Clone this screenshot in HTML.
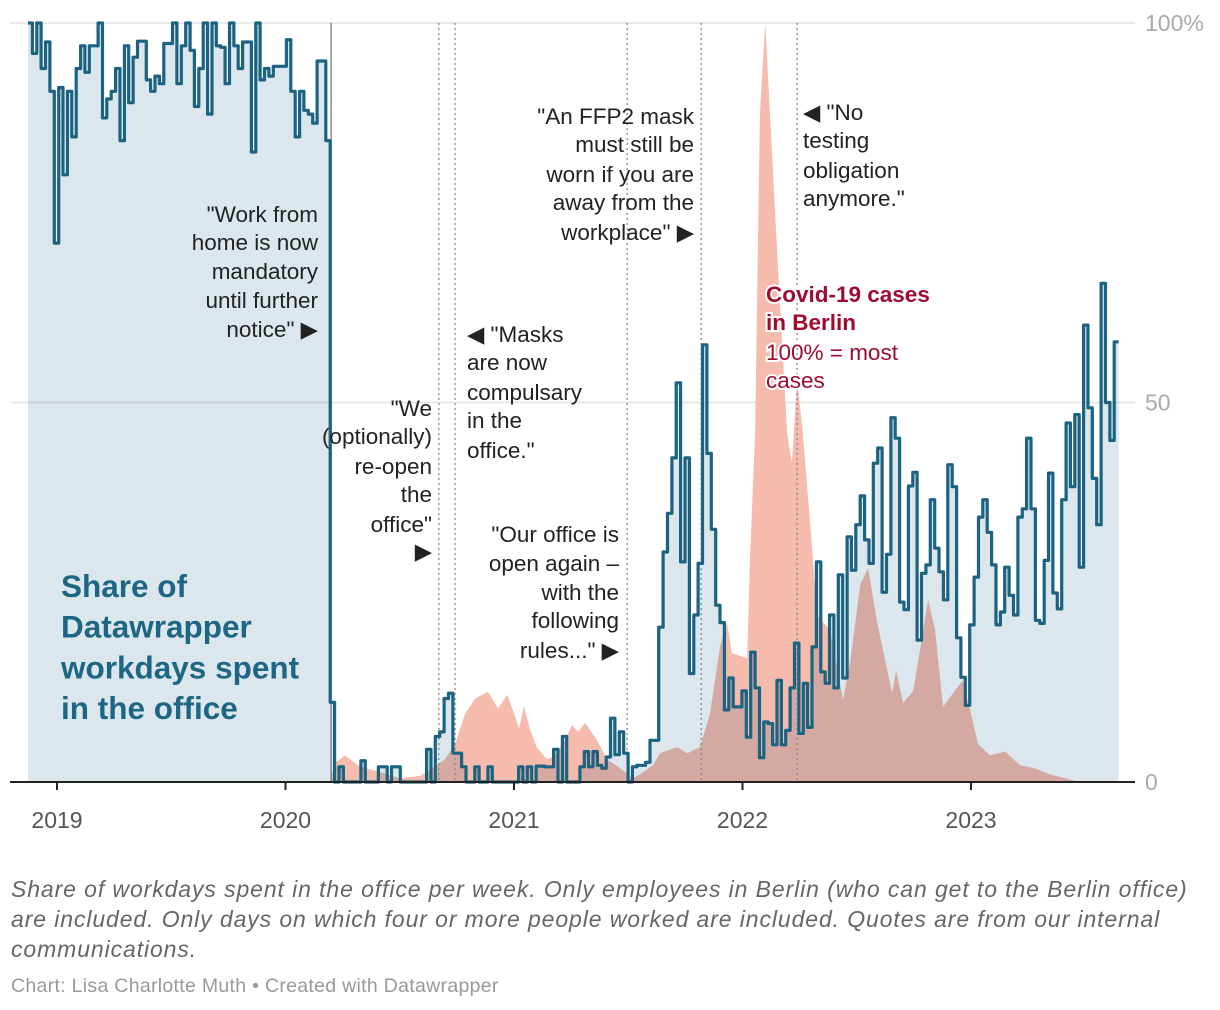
<!DOCTYPE html>
<html><head><meta charset="utf-8"><style>
body{margin:0;background:#fff;width:1220px;height:1010px;overflow:hidden;font-family:"Liberation Sans",sans-serif}
svg{display:block}
.ann{font-size:22.5px;fill:#222}
.foot{position:absolute;left:11px;top:874px;width:1200px;font-style:italic;color:#666;font-size:23px;line-height:30px;letter-spacing:0.9px}
.credit{position:absolute;left:11px;top:975px;color:#999;font-size:19.5px;letter-spacing:0.3px}
</style></head><body>
<svg id="chart" width="1220" height="870" viewBox="0 0 1220 870"></svg>
<div class="foot">Share of workdays spent in the office per week. Only employees in Berlin (who can get to the Berlin office) are included. Only days on which four or more people worked are included. Quotes are from our internal communications.</div>
<div class="credit">Chart: Lisa Charlotte Muth • Created with Datawrapper</div>
<script>
const officeShare=[100,96,100,94,97.5,91,71,91.5,80,91,85,94,97,93.5,97,97,100,87.5,90,91,94,84.5,97,89.5,95.5,97.6,97.6,92.5,91,93,92,97.3,97.3,100,92,97,100,96.4,89,94,100,88,100,97,96.8,92,100,97,94,97.5,97.5,83,100,92.5,94,93,94.3,94.3,94.3,97.8,91,85,91,88.5,88,86.8,95,95,84.5,
10.5,0,2,0,0,0,0,2.8,0,0,0,2,2,0,2,2,0,0,0,0,0,0,4.3,0,6,6.6,11,11.7,3.8,3.8,2,0,0,2,0,0,2,0,0,0,0,0,0,2,0,2,0,2.1,2.1,2,2,4.3,0,6,0,0,0,2,4,2,4,2.2,1.8,3.3,8.4,3.6,6.6,3.8,0,2,2.2,2.2,2.6,5.5,5.5,
20.4,30.3,35.4,42.7,52.6,29,42.7,14.3,22,28.8,57.6,43.3,33.3,23.3,21,9.5,13.7,9.9,9.9,12,5.9,17.1,12.4,3.2,7.9,7.7,4.9,13.4,4.9,6.8,12.4,18.3,6.4,13,7.2,17.8,29,14.5,13,22,12.4,27.3,13.7,32.3,27.9,33.9,37.7,31.9,28.8,42,
44,25,30,48,45.3,23.7,22.7,39,40.8,18.7,27.5,28.6,37.2,30.8,27.7,24,41.8,38.9,19,13.8,10.1,20.7,27,34.9,37.2,32.9,28.6,20.7,22.4,28.3,24.6,22,34.9,36,45.3,36,21.3,20.9,29.2,40.7,24.9,22.8,37.2,47.3,38.9,48.4,28.3,60.2,49.3,40,33.9,65.7,50,45,58];
const covidWeeks=[69,70.1,72.4,75.8,79.2,84.9,89.5,92.9,95.2,97.5,99.8,102.1,105,107.3,109.4,111,112.1,113.2,114.6,116.2,118.5,119.9,122.1,124.2,125.6,127.2,129.9,132.2,135.2,138.1,139.7,142.7,144.3,148.2,150.5,153.4,155.7,158,159.6,160.7,164.2,164.8,166,167.1,168.3,169.4,171.2,173.3,174.4,175.6,176.9,179,180.1,183.1,186.1,187.7,190,191.8,193.8,195.7,197.3,198.2,199.8,202.1,204.1,205.5,207.1,208.9,212.1,213.5,215.1,216.9,219.6,223.1,226.5,229.9,233.3,240.2];
const covidValues=[0,2.5,3.5,2,1.5,0.5,0.8,2,3,5,9,11,11.9,9.7,11.5,9,7,10,7,4.5,3,3.3,5,7.5,6.6,7.8,5.5,3,1.8,0.5,1,2.2,3.8,4.6,3.8,4.6,9,17.8,21,17,16.3,28.8,46,88,100,88,68,46,42,53,46,31,22,20,10.8,15.7,26,28.2,21.3,16,11.7,14.7,10.4,12,19,24,20,9.9,12.4,13.4,9.5,5,3.5,4,2.2,1.8,1,0];
const yTicks=[0,50,100];
const yTickLabels=["0","50","100%"];
const years=[2019,2020,2021,2022,2023];
const eventWeeks=[69.2,93.8,97.5,136.8,153.7,175.6];

const NS="http://www.w3.org/2000/svg";
const svg=document.getElementById('chart');
const X0=28,WK=4.38,Y0=782,Y100=23;
const xw=w=>X0+w*WK;
const y=v=>Y0-(Y0-Y100)*v/100;
const xy=yr=>57+(yr-2019)*228.5;
function el(tag,attrs,parent){const e=document.createElementNS(NS,tag);for(const k in attrs)e.setAttribute(k,attrs[k]);(parent||svg).appendChild(e);return e;}

yTicks.forEach((t,i)=>{
  if(t>0){const g=el('line',{x1:10,x2:1135,y1:y(t),y2:y(t),stroke:'#e2e2e2','stroke-width':1.5});
  
  }
  const tx=el('text',{x:1145,y:y(t)+8,'font-size':23,fill:'#aaa'});tx.textContent=yTickLabels[i];
  
  
});

let cd='M'+xw(covidWeeks[0])+','+Y0;
covidWeeks.forEach((w,i)=>{cd+=' L'+xw(w).toFixed(1)+','+y(covidValues[i]).toFixed(1);});
cd+=' L'+xw(covidWeeks[covidWeeks.length-1])+','+Y0+' Z';
const ca=el('path',{d:cd,fill:'#f5bcae'});



let ld='',fd='M'+xw(0)+','+Y0;
officeShare.forEach((v,i)=>{
  const a=xw(i),b=xw(i+1),yy=y(v).toFixed(1);
  ld+=(i===0?'M':' L')+a.toFixed(1)+','+yy+' L'+b.toFixed(1)+','+yy;
  fd+=' L'+a.toFixed(1)+','+yy+' L'+b.toFixed(1)+','+yy;
});
fd+=' L'+xw(officeShare.length)+','+Y0+' Z';
const fa=el('path',{d:fd,fill:'#dce6ed',style:'mix-blend-mode:multiply'});



eventWeeks.forEach((w,i)=>{
  const ln=el('line',{x1:xw(w),x2:xw(w),y1:23,y2:Y0,stroke:i===0?'#777':'#888','stroke-width':1.3,'stroke-dasharray':i===0?'none':'2,3'});
  
  
});

const line=el('path',{d:ld,fill:'none',stroke:'#1b6380','stroke-width':3.2,'stroke-linejoin':'round'});



const ax=el('line',{x1:10,x2:1135,y1:Y0,y2:Y0,stroke:'#222','stroke-width':2});


years.forEach(yr=>{
  const tk=el('line',{x1:xy(yr),x2:xy(yr),y1:Y0,y2:Y0+8,stroke:'#222','stroke-width':2});
  
  
  const t=el('text',{x:xy(yr),y:828,'font-size':23,fill:'#555','text-anchor':'middle'});t.textContent=yr;
  
  
});

function block(name,lines,x,ys,anchor,opts){
  const t=el('text',Object.assign({class:'ann','text-anchor':anchor},opts||{}));
  
  
  lines.forEach((s,i)=>{const ts=el('tspan',{x:x,y:ys[i]},t);ts.textContent=s;});
  return t;
}
block('annotation-work-from-home',['"Work from','home is now','mandatory','until further','notice" ▶'],318,[222,250,279,308,337],'end');
block('annotation-reopen',['"We','(optionally)','re-open','the','office"','▶'],432,[416,444,474,502,532,559],'end');
block('annotation-masks',['◀ "Masks','are now','compulsary','in the','office."'],467,[342,370,400,428,458],'start');
block('annotation-office-open',['"Our office is','open again –','with the','following','rules..." ▶'],619,[542,571,600,628,658],'end');
block('annotation-ffp2',['"An FFP2 mask','must still be','worn if you are','away from the','workplace" ▶'],694,[124,152,182,210,240],'end');
block('annotation-no-testing',['◀ "No','testing','obligation','anymore."'],803,[120,148,178,206],'start');
block('covid-label',['Covid-19 cases','in Berlin'],766,[302,330],'start',{style:'fill:#9e0b2f;font-weight:bold;paint-order:stroke;stroke:#fff;stroke-width:4px'});
block('covid-label-note',['100% = most','cases'],766,[360,388],'start',{style:'fill:#9e0b2f;paint-order:stroke;stroke:#fff;stroke-width:4px'});
const tt=el('text',{'font-size':31.5,'font-weight':'bold',fill:'#1d6784'});


['Share of','Datawrapper','workdays spent','in the office'].forEach((s,i)=>{const ts=el('tspan',{x:61,y:597+i*40.7},tt);ts.textContent=s;});
</script>
</body></html>
